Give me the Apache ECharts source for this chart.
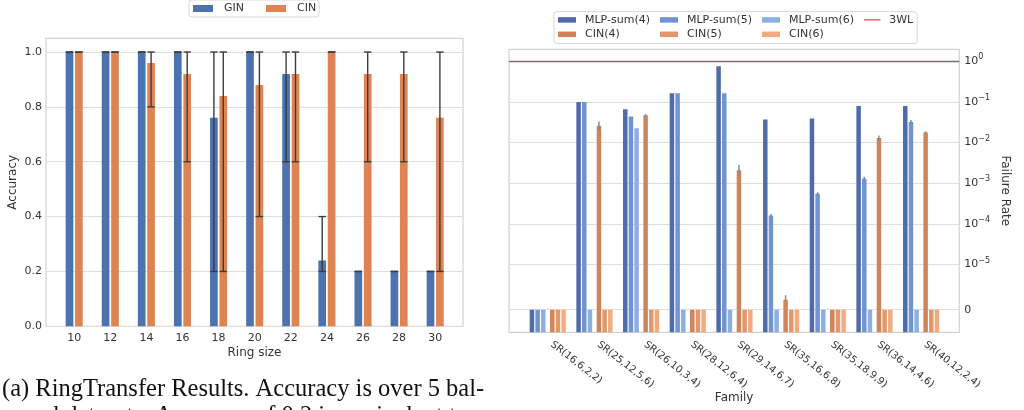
<!DOCTYPE html>
<html><head><meta charset="utf-8">
<script src="https://cdn.jsdelivr.net/npm/echarts@6/dist/echarts.min.js"></script>
<style>html,body{margin:0;padding:0;background:#fff}#c{width:1024px;height:410px}</style>
</head><body><div id="c"></div><script>
// ---------- Left chart data (RingTransfer) ----------
const ringSizes = [10, 12, 14, 16, 18, 20, 22, 24, 26, 28, 30];
const ginAcc  = [1, 1, 1, 1, 0.76, 1, 0.92, 0.24, 0.2, 0.2, 0.2];
const cinAcc  = [1, 1, 0.96, 0.92, 0.84, 0.88, 0.92, 1, 0.92, 0.92, 0.76];
const ginLow  = [1, 1, 1, 1, 0.2, 1, 0.6, 0.2, 0.2, 0.2, 0.2];
const ginHigh = [1, 1, 1, 1, 1, 1, 1, 0.4, 0.2, 0.2, 0.2];
const cinLow  = [1, 1, 0.8, 0.6, 0.2, 0.4, 0.6, 1, 0.6, 0.6, 0.2];
const cinHigh = [1, 1, 1, 1, 1, 1, 1, 1, 1, 1, 1];
const accTicks = [0, 0.2, 0.4, 0.6, 0.8, 1.0];

// ---------- Right chart data (failure rate) ----------
const families = ['SR(16,6,2,2)', 'SR(25,12,5,6)', 'SR(26,10,3,4)', 'SR(28,12,6,4)', 'SR(29,14,6,7)',
                  'SR(35,16,6,8)', 'SR(35,18,9,9)', 'SR(36,14,4,6)', 'SR(40,12,2,4)'];
const mlp4 = [0, 0.1, 0.066, 0.163, 0.75, 0.037, 0.039, 0.08, 0.08];
const mlp5 = [0, 0.1, 0.044, 0.163, 0.163, 1.6e-4, 5.5e-4, 1.3e-3, 0.032];
const mlp6 = [0, 0, 0.0225, 0, 0, 0, 0, 0, 0];
const cin4 = [0, 0.026, 0.047, 0, 0.0021, 2.2e-6, 0, 0.013, 0.0176];
const cin5 = [0, 0, 0, 0, 0, 0, 0, 0, 0];
const cin6 = [0, 0, 0, 0, 0, 0, 0, 0, 0];
const cin4ErrLow  = [null, 0.020, 0.044, null, 0.0016, 1.8e-6, null, 0.011, 0.016];
const cin4ErrHigh = [null, 0.033, 0.050, null, 0.0028, 3.2e-6, null, 0.015, 0.019];
const mlp5ErrLow  = [null, null, null, null, null, 1.5e-4, 5.1e-4, 1.2e-3, 0.030];
const mlp5ErrHigh = [null, null, null, null, null, 1.75e-4, 6.0e-4, 1.45e-3, 0.036];
const wl3Rate = 1;
const rateTicks = [0, 1e-5, 1e-4, 1e-3, 1e-2, 1e-1, 1];
const rateTickLabels = ['0', '{b|10}{s|\u22125}', '{b|10}{s|\u22124}', '{b|10}{s|\u22123}',
                        '{b|10}{s|\u22122}', '{b|10}{s|\u22121}', '{b|10}{s|0}'];

// symlog transform (linthresh 1e-5, linscale 1), in decades
const LINTHRESH = 1e-5, LINSCALE = 1 / (1 - 0.1);
function symlog(v) {
  return v > LINTHRESH ? Math.log10(v) : Math.log10(LINTHRESH) - LINSCALE + (v / LINTHRESH) * LINSCALE;
}
const RATE_MIN = -6.666, RATE_MAX = 0.295;   // axis extent in decades
const ry = v => symlog(v) - RATE_MIN;
const rateTickVals = rateTicks.map(ry);

// ---------- layout / styles ----------
const FONT = 'DejaVu Sans';
const TXT = '#333333';
const LEFT_BAR_W = 7.7, LEFT_GAP = 0.22;
const RIGHT_BAR_W = 4.5, RIGHT_SPACER_W = 2.64, RIGHT_GAP = 0.26;

function barCenters(widths, gapPct) {
  let sum = 0;
  widths.forEach(w => { sum += w * (1 + gapPct); });
  sum -= widths[widths.length - 1] * gapPct;
  let off = -sum / 2;
  return widths.map(w => { const c = off + w / 2; off += w * (1 + gapPct); return c; });
}
const leftCenters = barCenters([LEFT_BAR_W, LEFT_BAR_W], LEFT_GAP);
const rightCenters = barCenters([RIGHT_BAR_W, RIGHT_BAR_W, RIGHT_BAR_W, RIGHT_SPACER_W, RIGHT_BAR_W, RIGHT_BAR_W, RIGHT_BAR_W], RIGHT_GAP);

function errorSeries(gi, lows, highs, offset, color, cap, width) {
  const data = [];
  lows.forEach((lo, i) => { if (lo != null) data.push([i, lo, highs[i]]); });
  return {
    type: 'custom', xAxisIndex: gi, yAxisIndex: gi, z: 5, silent: true,
    encode: { x: 0, y: [1, 2] },
    data: data,
    renderItem(params, api) {
      const x = api.value(0);
      const p1 = api.coord([x, api.value(1)]);
      const p2 = api.coord([x, api.value(2)]);
      const cx = p1[0] + offset;
      const st = { stroke: color, lineWidth: width };
      const ch = [{ type: 'line', shape: { x1: cx, y1: p1[1], x2: cx, y2: p2[1] }, style: st }];
      if (cap > 0) {
        ch.push({ type: 'line', shape: { x1: cx - cap, y1: p1[1], x2: cx + cap, y2: p1[1] }, style: st });
        ch.push({ type: 'line', shape: { x1: cx - cap, y1: p2[1], x2: cx + cap, y2: p2[1] }, style: st });
      }
      return { type: 'group', children: ch };
    }
  };
}

const idxL = ringSizes.map((_, i) => i);
const idxR = families.map((_, i) => i);
const splitStyle = { show: true, lineStyle: { color: '#dedede', width: 1.2 } };

function rbar(name, vals, color) {
  return {
    type: 'bar', name: name, xAxisIndex: 1, yAxisIndex: 1,
    data: vals.map((v, i) => [i, ry(v)]),
    barWidth: RIGHT_BAR_W, barGap: (RIGHT_GAP * 100) + '%',
    itemStyle: { color: color }
  };
}
const LINE_ICON = 'path://M0,0h0.01v0.01h-0.01zM0,2.3h18v1.4h-18zM0,6h0.01v0.01h-0.01z';

const option = {
  animation: false,
  backgroundColor: '#ffffff',
  textStyle: { fontFamily: FONT },
  grid: [
    { left: 46, top: 38.3, width: 417, height: 288, show: true, borderColor: '#d2d2d2', borderWidth: 1.2,
      containLabel: false, outerBoundsMode: 'none' },
    { left: 509, top: 49.3, width: 450.3, height: 283, show: true, borderColor: '#d2d2d2', borderWidth: 1.2,
      containLabel: false, outerBoundsMode: 'none' }
  ],
  legend: [
    {
      data: ['GIN', 'CIN'], left: 189, top: 0, icon: 'rect', itemWidth: 20, itemHeight: 7, itemGap: 22,
      padding: [3, 3, 3, 4], backgroundColor: '#fff', borderColor: '#d8d8d8', borderWidth: 1, borderRadius: 3,
      textStyle: { fontFamily: FONT, fontSize: 11, color: TXT, width: 22, padding: [0, 0, 0, 6] }
    },
    {
      data: [
        { name: 'MLP-sum(4)', icon: 'rect' }, { name: 'MLP-sum(5)', icon: 'rect' }, { name: 'MLP-sum(6)', icon: 'rect' },
        { name: '3WL', icon: LINE_ICON, textStyle: { width: 20, padding: [0, 0, 0, 3] } },
        { name: 'CIN(4)', icon: 'rect' }, { name: 'CIN(5)', icon: 'rect' }, { name: 'CIN(6)', icon: 'rect' }
      ],
      left: 554, top: 11.7, width: 380, itemWidth: 18, itemHeight: 5.5, itemGap: 2,
      padding: [2, 4, 3, 4], backgroundColor: '#fff', borderColor: '#d8d8d8', borderWidth: 1, borderRadius: 3,
      textStyle: { fontFamily: FONT, fontSize: 11, color: TXT, width: 73, lineHeight: 12.4, padding: [0, 0, 0, 4] }
    }
  ],
  xAxis: [
    {
      gridIndex: 0, type: 'value', min: -0.781, max: 10.77,
      name: 'Ring size', nameLocation: 'middle', nameGap: 21, nameMoveOverlap: false,
      nameTextStyle: { fontFamily: FONT, fontSize: 12, color: TXT },
      axisLine: { show: false }, axisTick: { show: false, customValues: idxL }, splitLine: { show: false },
      axisLabel: { customValues: idxL, formatter: v => String(ringSizes[Math.round(v)]), margin: 6,
                   fontFamily: FONT, fontSize: 11, color: TXT }
    },
    {
      gridIndex: 1, type: 'value', min: -0.831, max: 8.818,
      name: 'Family', nameLocation: 'middle', nameGap: 60, nameMoveOverlap: false,
      nameTextStyle: { fontFamily: FONT, fontSize: 12, color: TXT },
      axisLine: { show: false }, axisTick: { show: false, customValues: idxR }, splitLine: { show: false },
      axisLabel: { customValues: idxR, formatter: v => families[Math.round(v)], rotate: -38, margin: 8,
                   padding: [0, 0, 0, 5], fontFamily: FONT, fontSize: 10, color: TXT }
    }
  ],
  yAxis: [
    {
      gridIndex: 0, type: 'value', min: 0, max: 1.05,
      name: 'Accuracy', nameLocation: 'middle', nameGap: 27, nameMoveOverlap: false,
      nameTextStyle: { fontFamily: FONT, fontSize: 12, color: TXT },
      axisLine: { show: false }, axisTick: { show: false, customValues: accTicks }, splitLine: splitStyle,
      axisLabel: { customValues: accTicks, formatter: v => v.toFixed(1), margin: 4,
                   fontFamily: FONT, fontSize: 11, color: TXT }
    },
    {
      gridIndex: 1, type: 'value', position: 'right', min: 0, max: RATE_MAX - RATE_MIN,
      name: 'Failure Rate', nameLocation: 'middle', nameGap: 40, nameRotate: -90, nameMoveOverlap: false,
      nameTextStyle: { fontFamily: FONT, fontSize: 12, color: TXT },
      axisLine: { show: false }, axisTick: { show: false, customValues: rateTickVals }, splitLine: splitStyle,
      axisLabel: {
        customValues: rateTickVals, margin: 5, fontFamily: FONT, fontSize: 11, color: TXT,
        formatter: v => {
          const k = rateTickVals.findIndex(t => Math.abs(t - v) < 1e-6);
          return k >= 0 ? rateTickLabels[k] : '';
        },
        rich: {
          b: { fontFamily: FONT, fontSize: 11, color: TXT, lineHeight: 16 },
          s: { fontFamily: FONT, fontSize: 8, color: TXT, lineHeight: 8, verticalAlign: 'top' }
        }
      }
    }
  ],
  series: [
    { type: 'bar', name: 'GIN', xAxisIndex: 0, yAxisIndex: 0, data: ginAcc.map((v, i) => [i, v]),
      barWidth: LEFT_BAR_W, barGap: (LEFT_GAP * 100) + '%', itemStyle: { color: '#4c72b0' } },
    { type: 'bar', name: 'CIN', xAxisIndex: 0, yAxisIndex: 0, data: cinAcc.map((v, i) => [i, v]),
      barWidth: LEFT_BAR_W, barGap: (LEFT_GAP * 100) + '%', itemStyle: { color: '#dd8452' } },
    errorSeries(0, ginLow, ginHigh, leftCenters[0], '#3c3c3c', 3.7, 1.4),
    errorSeries(0, cinLow, cinHigh, leftCenters[1], '#3c3c3c', 3.7, 1.4),

    rbar('MLP-sum(4)', mlp4, '#4e6ca8'),
    rbar('MLP-sum(5)', mlp5, '#6f94cf'),
    rbar('MLP-sum(6)', mlp6, '#8cafe2'),
    { type: 'bar', name: 'spacer', xAxisIndex: 1, yAxisIndex: 1, data: [], barWidth: RIGHT_SPACER_W,
      barGap: (RIGHT_GAP * 100) + '%' },
    rbar('CIN(4)', cin4, '#cf8559'),
    rbar('CIN(5)', cin5, '#e3976b'),
    rbar('CIN(6)', cin6, '#f3aa7f'),
    errorSeries(1, mlp5ErrLow.map(v => v == null ? null : ry(v)), mlp5ErrHigh.map(v => v == null ? null : ry(v)),
                rightCenters[1], '#8a8a8a', 0, 1.5),
    errorSeries(1, cin4ErrLow.map(v => v == null ? null : ry(v)), cin4ErrHigh.map(v => v == null ? null : ry(v)),
                rightCenters[4], '#8a8a8a', 0, 1.5),
    {
      type: 'line', name: '3WL', xAxisIndex: 1, yAxisIndex: 1, data: [], symbol: 'none',
      itemStyle: { color: '#d0504f' }, lineStyle: { color: '#d0504f', width: 1.2 },
      markLine: { silent: true, symbol: 'none', label: { show: false },
                  lineStyle: { color: '#7d6f6f', width: 1.4, type: 'solid' },
                  data: [{ yAxis: ry(wl3Rate) }] }
    }
  ],
  graphic: [
    { type: 'text', left: 2, top: 377, silent: true,
      style: { text: '(a) RingTransfer Results. Accuracy is over 5 bal-', font: '24.5px "Liberation Serif"', fill: '#111' } },
    { type: 'text', left: 2, top: 404, silent: true,
      style: { text: 'anced datasets. Accuracy of 0.2 is equivalent to', font: '24.5px "Liberation Serif"', fill: '#111' } }
  ]
};

const chart = echarts.init(document.getElementById('c'), null, { renderer: 'canvas' });
chart.setOption(option);
</script></body></html>
